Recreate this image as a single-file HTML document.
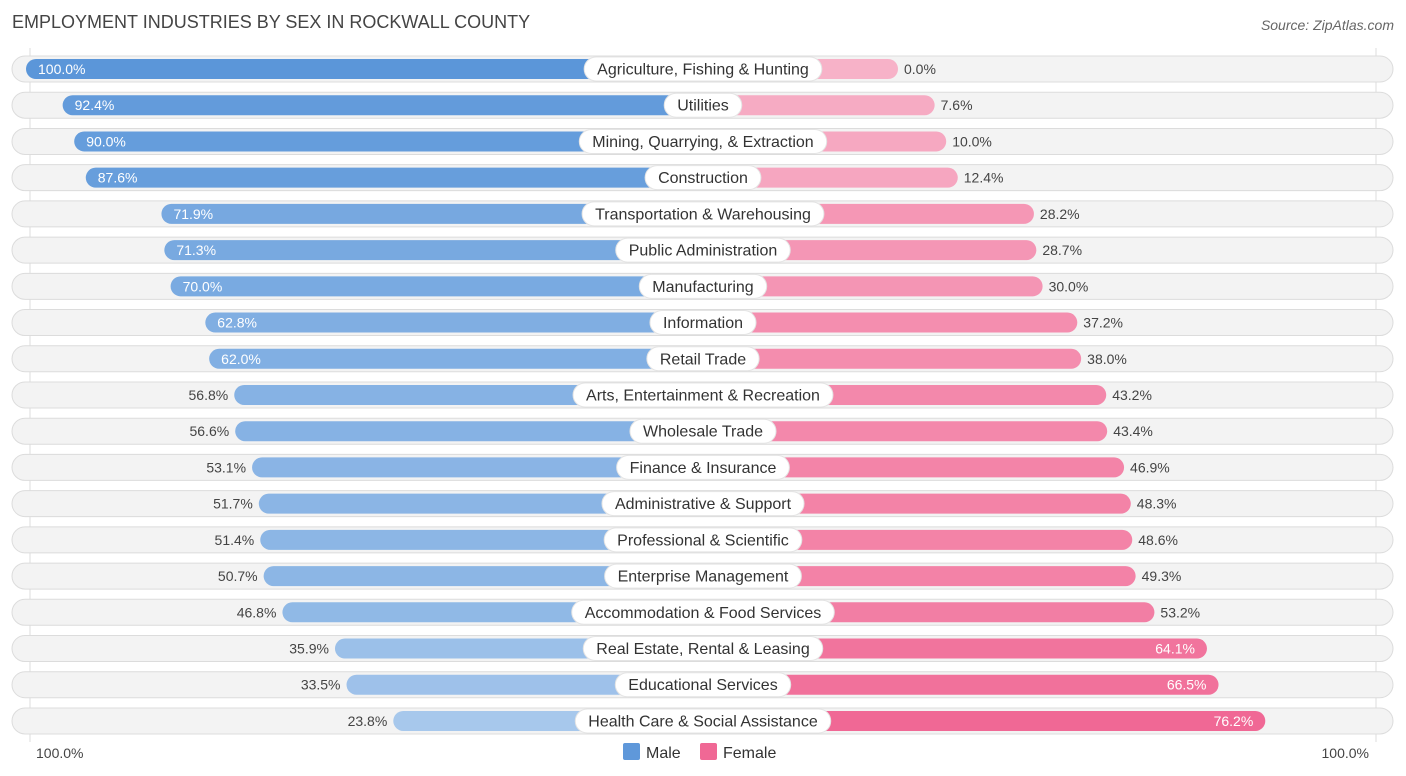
<!DOCTYPE html>
<html><head><meta charset="utf-8"><style>
body{margin:0;background:#fff;font-family:"Liberation Sans",sans-serif;}
svg{display:block}
</style></head><body>
<svg id="chart" width="1406" height="776" xmlns="http://www.w3.org/2000/svg">
<text x="12" y="28" font-size="18" fill="#444">EMPLOYMENT INDUSTRIES BY SEX IN ROCKWALL COUNTY</text>
<text x="1394" y="30" font-size="14" fill="#666" font-style="italic" text-anchor="end">Source: ZipAtlas.com</text>
<line x1="30" y1="48" x2="30" y2="742" stroke="#ddd"/>
<line x1="1376" y1="48" x2="1376" y2="742" stroke="#ddd"/>
<g id="rows"></g>
<text x="36" y="758" font-size="14" fill="#444">100.0%</text>
<text x="1369" y="758" font-size="14" fill="#444" text-anchor="end">100.0%</text>
<g>
<rect x="623" y="743" width="17" height="17" rx="2" fill="#5f98da"/>
<text x="646" y="758" font-size="16" fill="#333">Male</text>
<rect x="700" y="743" width="17" height="17" rx="2" fill="#f06895"/>
<text x="723" y="758" font-size="16" fill="#333">Female</text>
</g>
</svg>
<script>
const categories=["Agriculture, Fishing & Hunting","Utilities","Mining, Quarrying, & Extraction","Construction","Transportation & Warehousing","Public Administration","Manufacturing","Information","Retail Trade","Arts, Entertainment & Recreation","Wholesale Trade","Finance & Insurance","Administrative & Support","Professional & Scientific","Enterprise Management","Accommodation & Food Services","Real Estate, Rental & Leasing","Educational Services","Health Care & Social Assistance"];
const maleValues=[100.0,92.4,90.0,87.6,71.9,71.3,70.0,62.8,62.0,56.8,56.6,53.1,51.7,51.4,50.7,46.8,35.9,33.5,23.8];
const femaleValues=[0.0,7.6,10.0,12.4,28.2,28.7,30.0,37.2,38.0,43.2,43.4,46.9,48.3,48.6,49.3,53.2,64.1,66.5,76.2];
const NS="http://www.w3.org/2000/svg";
const cx=703, base=195, k=4.82, y0=69, dy=36.22, bh=20;
function len(v){return base+k*v;}
function mix(a,b,t){t=Math.max(0,Math.min(1,t));return "rgb("+a.map((x,i)=>Math.round(x+(b[i]-x)*t)).join(",")+")";}
function maleColor(v){return mix([171,202,237],[91,150,217],(v-20)/80);}
function femaleColor(v){return mix([247,178,200],[240,100,146],v/80);}
const g=document.getElementById('rows');
function el(tag,attrs,parent){const e=document.createElementNS(NS,tag);for(const a in attrs)e.setAttribute(a,attrs[a]);parent.appendChild(e);return e;}
categories.forEach((c,i)=>{
  const y=y0+i*dy;
  const row=el('g',{},g);
  
  
  const bg=el('rect',{x:12,y:y-13,width:1381,height:26,rx:13,fill:'#f3f3f3',stroke:'#dcdcdc','stroke-width':1},row);
  
  
  const m=maleValues[i], f=femaleValues[i];
  const ml=len(m), fl=len(f);
  const mb=el('rect',{x:cx-ml,y:y-bh/2,width:ml,height:bh,rx:10,fill:maleColor(m)},row);
  
  
  const fb=el('rect',{x:cx,y:y-bh/2,width:fl,height:bh,rx:10,fill:femaleColor(f)},row);
  
  
  const mIn=m>=60, fIn=f>=60;
  const mt=el('text',{x:mIn?cx-ml+12:cx-ml-6,y:y+5,'font-size':14,fill:mIn?'#fff':'#444','text-anchor':mIn?'start':'end'},row);
  mt.textContent=m.toFixed(1)+'%';
  
  
  const ft=el('text',{x:fIn?cx+fl-12:cx+fl+6,y:y+5,'font-size':14,fill:fIn?'#fff':'#444','text-anchor':fIn?'end':'start'},row);
  ft.textContent=f.toFixed(1)+'%';
  
  
  const lt=el('text',{x:cx,y:y+5.5,'font-size':16,fill:'#333','text-anchor':'middle'},row);
  lt.textContent=c;
  
  
  const w=lt.getComputedTextLength()+26;
  const pill=el('rect',{x:cx-w/2,y:y-12,width:w,height:24,rx:12,fill:'#fff',stroke:'#e4e4e4'},row);
  
  
  row.insertBefore(pill,lt);
});
</script>
</body></html>
